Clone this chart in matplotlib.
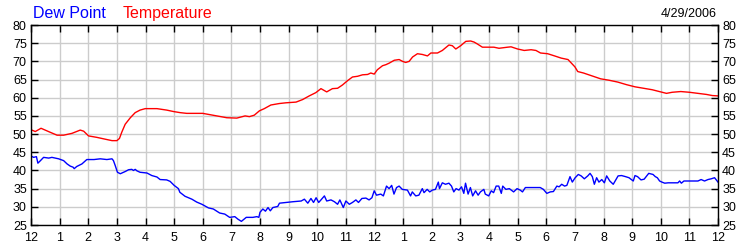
import matplotlib
matplotlib.use("Agg")
import matplotlib.pyplot as plt

plt.rcParams['font.family'] = ['Liberation Sans', 'DejaVu Sans']

# Hours since midnight and temperature (deg F)
temp_hours = [0.0, 0.15, 0.35, 0.67, 0.91, 1.14, 1.43, 1.72, 1.84, 2.01, 2.3, 2.65, 2.83, 3.0,
              3.09, 3.17, 3.29, 3.47, 3.64, 3.81, 3.99, 4.4, 4.74, 4.98, 5.21, 5.44, 6.0, 6.49,
              6.84, 7.19, 7.48, 7.63, 7.8, 7.98, 8.15, 8.38, 8.67, 8.9, 9.26, 9.49, 9.72, 9.95,
              10.13, 10.33, 10.53, 10.71, 10.88, 11.06, 11.23, 11.41, 11.58, 11.76, 11.87, 11.99,
              12.1, 12.28, 12.4, 12.51, 12.69, 12.86, 12.98, 13.09, 13.21, 13.33, 13.5, 13.67,
              13.85, 13.97, 14.2, 14.37, 14.6, 14.72, 14.84, 15.01, 15.19, 15.36, 15.48, 15.59,
              15.77, 16.0, 16.17, 16.35, 16.65, 16.77, 17.0, 17.23, 17.47, 17.64, 17.8, 18.05,
              18.29, 18.52, 18.76, 19.0, 19.1, 19.3, 19.6, 19.9, 20.2, 20.5, 20.8, 21.1, 21.4,
              21.7, 22.0, 22.2, 22.4, 22.7, 23.0, 23.3, 23.6, 23.8, 24.0]
temp_values = [51.2, 50.7, 51.6, 50.5, 49.7, 49.7, 50.2, 51.1, 50.8, 49.5, 49.1, 48.5, 48.2, 48.2,
               48.8, 50.5, 52.7, 54.5, 55.9, 56.6, 57.0, 57.0, 56.6, 56.2, 55.9, 55.7, 55.7, 55.0,
               54.5, 54.4, 55.0, 54.8, 55.2, 56.4, 57.0, 58.0, 58.4, 58.6, 58.8, 59.5, 60.5, 61.4,
               62.5, 61.6, 62.5, 62.6, 63.5, 64.7, 65.7, 65.9, 66.3, 66.4, 66.8, 66.5,
               67.7, 68.8, 69.1, 69.5, 70.3, 70.5, 70.0, 69.7, 70.0, 71.2, 72.1, 71.9,
               71.5, 72.3, 72.3, 73.0, 74.5, 74.3, 73.4, 74.3, 75.5, 75.6, 75.3, 74.8,
               73.9, 73.9, 73.9, 73.6, 73.9, 74.0, 73.4, 73.0, 73.2, 73.0, 72.3, 72.1,
               71.5, 70.9, 70.5, 68.5, 67.2, 66.8, 66.0, 65.2, 64.8, 64.3, 63.6, 63.0, 62.6,
               62.2, 61.6, 61.2, 61.5, 61.7, 61.5, 61.2, 60.9, 60.6, 60.5]

# Hours since midnight and dew point (deg F)
dew_hours = [0.0, 0.09, 0.19, 0.24, 0.33, 0.44, 0.62, 0.73, 0.965, 1.14, 1.26, 1.37, 1.47, 1.51,
             1.6, 1.78, 1.95, 2.2, 2.42, 2.65, 2.83, 2.88, 2.94, 3.02, 3.12, 3.29, 3.41, 3.52,
             3.58, 3.64, 3.7, 3.81, 4.05, 4.22, 4.4, 4.51, 4.74, 4.86, 5.0, 5.15, 5.2, 5.38,
             5.62, 5.79, 5.97, 6.2, 6.37, 6.59, 6.77, 6.94, 7.12, 7.23, 7.35, 7.52, 7.75, 7.89,
             7.96, 8.0, 8.1, 8.19, 8.28, 8.36, 8.45, 8.62, 8.68, 8.91, 9.15, 9.44, 9.55, 9.67,
             9.78, 9.87, 9.96, 10.05, 10.13, 10.25, 10.33, 10.48, 10.6, 10.71, 10.79, 10.91,
             11.0, 11.12, 11.23, 11.35, 11.44, 11.56, 11.7, 11.81, 11.91, 11.99, 12.07, 12.22,
             12.31, 12.42, 12.51, 12.6, 12.68, 12.77, 12.86, 12.97, 13.15, 13.26, 13.32, 13.44,
             13.55, 13.67, 13.73, 13.84, 13.93, 14.02, 14.13, 14.23, 14.27, 14.37, 14.48, 14.6,
             14.69, 14.77, 14.85, 14.95, 15.04, 15.12, 15.18, 15.27, 15.35, 15.43, 15.53, 15.62,
             15.7, 15.82, 15.87, 15.99, 16.08, 16.16, 16.25, 16.34, 16.43, 16.48, 16.59, 16.71,
             16.86, 16.98, 17.09, 17.17, 17.27, 17.44, 17.61, 17.79, 17.9, 18.02, 18.14, 18.25,
             18.37, 18.45, 18.54, 18.64, 18.72, 18.83, 18.91, 19.01, 19.12, 19.22, 19.33, 19.45,
             19.53, 19.61, 19.68, 19.76, 19.84, 19.94, 20.03, 20.11, 20.22, 20.34, 20.51, 20.63,
             20.77, 20.89, 21.04, 21.1, 21.19, 21.31, 21.42, 21.58, 21.73, 21.81, 21.88, 21.96,
             22.04, 22.14, 22.26, 22.43, 22.6, 22.66, 22.72, 22.81, 22.95, 23.12, 23.3, 23.41,
             23.53, 23.65, 23.76, 23.88, 24.0]
dew_values = [44.0, 43.6, 43.8, 42.0, 42.7, 43.6, 43.4, 43.6, 43.2, 42.7, 41.8, 41.2, 40.9, 40.5,
              41.1, 41.8, 43.0, 43.0, 43.2, 43.0, 43.2, 42.7, 41.4, 39.5, 39.1, 39.7, 40.2, 40.3,
              40.0, 40.3, 39.9, 39.5, 39.3, 38.6, 38.2, 37.5, 37.4, 37.0, 35.9, 35.0, 34.0, 32.9,
              32.1, 31.3, 30.7, 29.7, 29.4, 28.3, 28.0, 27.1, 27.3, 26.6, 26.0, 27.1, 27.1, 27.3,
              27.1, 28.5, 29.4, 28.8, 29.8, 28.9, 29.8, 30.1, 31.0, 31.2, 31.4, 31.6, 32.1, 31.0,
              32.3, 31.2, 32.5, 31.2, 31.9, 33.0, 31.6, 31.9, 31.4, 30.7, 31.9, 29.8,
              31.6, 30.7, 31.2, 31.9, 31.2, 32.3, 32.4, 31.9, 32.5, 34.4, 33.2, 33.5,
              33.0, 35.7, 35.0, 35.9, 33.5, 35.3, 35.7, 34.8, 34.6, 33.0, 34.1, 33.0,
              33.2, 35.0, 33.9, 34.8, 34.1, 34.6, 34.8, 36.8, 35.0, 36.6, 36.2, 36.5,
              35.7, 34.1, 35.0, 34.6, 35.5, 33.7, 36.5, 33.5, 35.3, 33.0, 34.4, 33.2,
              34.1, 34.8, 33.5, 33.0, 34.4, 33.9, 35.7, 35.7, 33.7, 35.7, 34.8, 35.0,
              34.1, 35.0, 34.6, 34.1, 35.3, 35.3, 35.3, 35.3, 34.8, 33.7, 34.1, 34.2,
              35.7, 35.5, 36.2, 35.7, 35.9, 38.3, 36.8, 38.0, 38.9, 38.5, 37.7, 38.5,
              39.2, 38.3, 36.2, 38.0, 36.8, 37.5, 36.6, 38.5, 37.1, 36.2, 38.5, 38.6,
              38.3, 38.0, 37.1, 38.6, 38.3, 37.4, 37.6, 39.2, 38.9, 38.3, 38.0, 37.1,
              36.8, 36.5, 36.6, 36.6, 36.6, 37.1, 36.5, 37.1, 37.1, 37.1, 37.1, 37.5,
              37.1, 37.5, 37.7, 38.0, 36.8]

x_tick_labels = ["12", "1", "2", "3", "4", "5", "6", "7", "8", "9", "10", "11",
                 "12", "1", "2", "3", "4", "5", "6", "7", "8", "9", "10", "11", "12"]
y_ticks = [25, 30, 35, 40, 45, 50, 55, 60, 65, 70, 75, 80]

fig = plt.figure(figsize=(7.5, 2.5), dpi=100)
ax = fig.add_axes([31 / 750, 1 - 225 / 250, 687 / 750, 200 / 250])

ax.plot(temp_hours, temp_values, color="#ff0000", lw=1.0)
ax.plot(dew_hours, dew_values, color="#0000ff", lw=1.0)

ax.set_xlim(0, 24)
ax.set_ylim(25, 80)
ax.set_xticks(range(25))
ax.set_xticklabels(x_tick_labels)
ax.set_yticks(y_ticks)
ax.grid(True, color="#cccccc", lw=1.0)
ax.set_axisbelow(True)
for s in ax.spines.values():
    s.set_color("black")
    s.set_linewidth(1.0)
ax.tick_params(axis="both", direction="in", length=5, width=1, labelsize=9,
               top=True, right=True, labelright=True, pad=3)
ax.tick_params(axis="x", pad=5)

fig.text(33 / 750, 1 - 17.5 / 250, "Dew Point", color="#0000ff", fontsize=11.5, va="baseline", ha="left")
fig.text(123 / 750, 1 - 17.5 / 250, "Temperature", color="#ff0000", fontsize=11.5, va="baseline", ha="left")
fig.text(717 / 750, 1 - 17.3 / 250, "4/29/2006", color="black", fontsize=9, va="baseline", ha="right")

fig.savefig("out.png", dpi=100)
